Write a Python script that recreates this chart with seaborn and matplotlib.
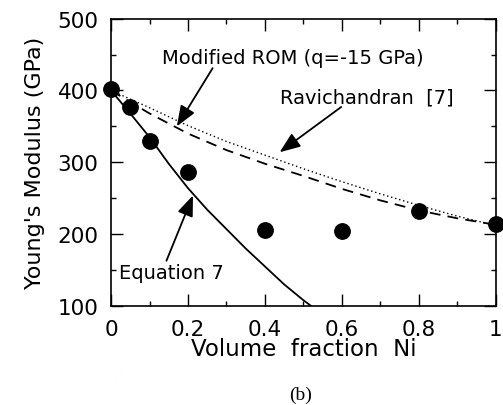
import matplotlib
matplotlib.use("Agg")
import matplotlib.pyplot as plt
import seaborn as sns
import pandas as pd
from matplotlib.ticker import MultipleLocator, FixedLocator

# Measured data (filled circles)
meas_x = [0.0, 0.05, 0.1, 0.2, 0.4, 0.6, 0.8, 1.0]
meas_E = [402, 377, 330, 287, 206, 204, 232, 214]

# Equation 7 (solid curve)
eq7_x = [0.0, 0.05, 0.1, 0.15, 0.2, 0.25, 0.3, 0.35, 0.4, 0.45, 0.5, 0.53]
eq7_E = [400, 368, 335, 298, 264, 234, 207, 180, 155, 130, 108, 96]

# Modified ROM (q=-15 GPa) (dotted)
rom_x = [0.0, 0.1, 0.2, 0.3, 0.4, 0.5, 0.6, 0.7, 0.8, 0.9, 1.0]
rom_E = [400, 376, 351, 329, 310, 291, 273, 256, 240, 225, 212]

# Ravichandran [7] (dashed)
rav_x = [0.0, 0.1, 0.2, 0.3, 0.4, 0.5, 0.6, 0.7, 0.8, 0.9, 1.0]
rav_E = [400, 368, 340, 317, 298, 281, 263, 247, 233, 222, 213]

x_ticks = [0, 0.2, 0.4, 0.6, 0.8, 1.0]
x_tick_labels = ["0", "0.2", "0.4", "0.6", "0.8", "1"]
y_ticks = [100, 200, 300, 400, 500]
y_tick_labels = ["100", "200", "300", "400", "500"]

sns.set_theme(style="ticks")
plt.rcParams["font.family"] = ["DejaVu Sans"]
plt.rcParams.update({"text.color": "black", "axes.labelcolor": "black",
                     "xtick.color": "black", "ytick.color": "black",
                     "axes.edgecolor": "black"})

fig = plt.figure(figsize=(5.03, 4.06), dpi=100)
ax = fig.add_axes([0.2207, 0.2438, 0.7653, 0.7079])

sns.lineplot(x=eq7_x, y=eq7_E, ax=ax, color="black", lw=1.3, sort=False)
sns.lineplot(x=rom_x, y=rom_E, ax=ax, color="black", lw=1.0, linestyle=(0, (1, 2)))
sns.lineplot(x=rav_x, y=rav_E, ax=ax, color="black", lw=1.3, linestyle=(0, (6, 4)))
sns.scatterplot(x=meas_x, y=meas_E, ax=ax, color="black", s=125, edgecolor="black",
                zorder=5, clip_on=False)

ax.set_xlim(0, 1)
ax.set_ylim(100, 500)
ax.xaxis.set_major_locator(FixedLocator(x_ticks))
ax.set_xticklabels(x_tick_labels)
ax.xaxis.set_minor_locator(MultipleLocator(0.1))
ax.yaxis.set_major_locator(FixedLocator(y_ticks))
ax.set_yticklabels(y_tick_labels)
ax.yaxis.set_minor_locator(MultipleLocator(50))

ax.tick_params(which="both", direction="in", top=True, right=True, color="black",
               labelcolor="black", width=1.0)
ax.tick_params(which="major", length=8.5, labelsize=15.5, pad=9)
ax.tick_params(which="minor", length=3.8)
for s in ax.spines.values():
    s.set_linewidth(1.2)
    s.set_color("black")

ax.set_xlabel("Volume  fraction  Ni", fontsize=16.5, labelpad=-1, color="black")
ax.set_ylabel("Young's Modulus (GPa)", fontsize=16, labelpad=9, color="black")

txt_kw = dict(fontsize=14, color="black", va="center", ha="left")
ax.text(0.132, 446, "Modified ROM (q=-15 GPa)", **txt_kw)
ax.text(0.44, 391, "Ravichandran  [7]", **txt_kw)
ax.text(0.021, 147, "Equation 7", **txt_kw)

arrow = dict(arrowstyle="-|>,head_length=0.9,head_width=0.35", color="black", lw=1.3,
             mutation_scale=14, shrinkA=0, shrinkB=0)
ax.annotate("", xy=(0.171, 350), xytext=(0.264, 431), arrowprops=arrow)
ax.annotate("", xy=(0.438, 314), xytext=(0.598, 377), arrowprops=arrow)
ax.annotate("", xy=(0.213, 254), xytext=(0.144, 163), arrowprops=arrow)

fig.text(0.598, 0.027, "(b)", fontsize=14, family=["Liberation Serif"], ha="center",
         va="center", color="black")

fig.savefig("out.png", dpi=100)
